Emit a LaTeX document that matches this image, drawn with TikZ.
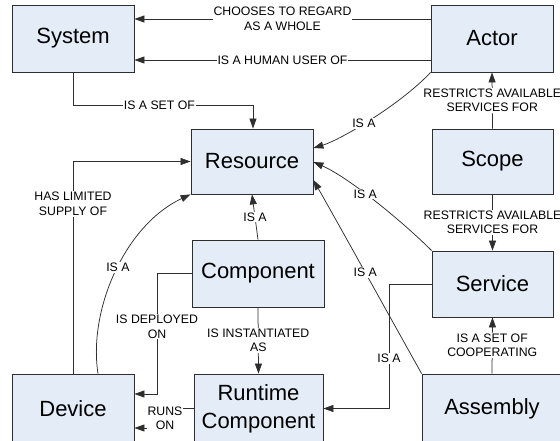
\documentclass[tikz,border=0pt]{standalone}
\usepackage{fontspec}
\setmainfont{Liberation Sans}
\usetikzlibrary{arrows.meta,calc}
\definecolor{boxfill}{HTML}{E4ECF7}
\definecolor{edgegray}{HTML}{2E2E2E}
\begin{document}
\begin{tikzpicture}[x=1pt,y=-1pt,
  ent/.style={draw=edgegray, fill=boxfill, line width=0.8pt,
    font=\fontsize{22}{28}\selectfont, align=center, inner sep=0pt},
  lbl/.style={fill=white, inner sep=1pt, text=black,
    font=\fontsize{12.3}{14.5}\selectfont, align=center},
  link/.style={draw=edgegray, line width=0.75pt,
    -{Triangle[length=10pt,width=7pt]}}
]
\useasboundingbox (0,0) rectangle (560,441);
\clip (0,0) rectangle (560,441);

% entities
\node[ent, minimum width=122pt, minimum height=67pt] (system)    at (73,38.5)    {System};
\node[ent, minimum width=122pt, minimum height=67pt] (actor)     at (492,38.5)   {Actor};
\node[ent, minimum width=122pt, minimum height=65pt] (resource)  at (252,161.5)  {Resource};
\node[ent, minimum width=121pt, minimum height=65pt] (scope)     at (492.5,161.5){Scope};
\node[ent, minimum width=132pt, minimum height=67pt] (component) at (258,273.5)  {Component};
\node[ent, minimum width=121pt, minimum height=66pt] (service)   at (492.5,284)  {Service};
\node[ent, minimum width=122pt, minimum height=69pt] (device)    at (73,408.5)   {Device};
\node[ent, minimum width=129pt, minimum height=69pt] (runtime)   at (258.5,408.5){Runtime\\Component};
\node[ent, minimum width=140pt, minimum height=69pt] (assembly)  at (492,408.5)  {Assembly};

% bend points of the orthogonal connectors
\coordinate (dp) at (157,394);
\coordinate (ro) at (165,428);
\coordinate (sr) at (389,408.5);

% relations
\draw[link] (actor.west |- 0,19) -- node[lbl]{CHOOSES TO REGARD\\AS A WHOLE} (system.east |- 0,19);
\draw[link] (actor.west |- 0,60) -- node[lbl]{IS A HUMAN USER OF} (system.east |- 0,60);
\draw[link] (system.south) |- node[lbl,pos=0.74]{IS A SET OF} (253,105) -- (resource.north -| 253,0);

\draw[link] (actor.south west) .. controls (400,105) and (340,140) ..
  node[lbl,pos=0.55]{IS A} (resource.east |- 0,148);
\draw[link] (service.north west) .. controls (402,221) and (348,177) ..
  node[lbl,pos=0.57]{IS A} (resource.east |- 0,162);
\draw[link] (assembly.north west) .. controls (386,310) and (343,232) ..
  node[lbl,pos=0.5]{IS A} (resource.east |- 0,180);
\draw[link] (component.north) -- node[lbl]{IS A} (resource.south);
\draw[link] (device.north -| 98,0) .. controls (88,310) and (125,225) ..
  node[lbl,pos=0.52]{IS A} (resource.south west);
\draw[link] (device.north) |- node[lbl,pos=0.4]{HAS LIMITED\\SUPPLY OF} (resource.west);

\draw[link] (scope.north) -- node[lbl]{RESTRICTS AVAILABLE\\SERVICES FOR} (actor.south);
\draw[link] (scope.south) -- node[lbl]{RESTRICTS AVAILABLE\\SERVICES FOR} (service.north);
\draw[link] (assembly.north) -- node[lbl]{IS A SET OF\\COOPERATING} (service.south);

\draw[link] (component.west) -| node[lbl,pos=0.72]{IS DEPLOYED\\ON} (dp) -- (device.east |- dp);
\draw[link] (component.south) -- node[lbl]{IS INSTANTIATED\\AS} (runtime.north);
\draw[link] (runtime.west) -| node[lbl,pos=0.75]{RUNS\\ON} (ro) -- (device.east |- ro);
\draw[link] (service.west) -| node[lbl,pos=0.8]{IS A} (sr) -- (runtime.east);
\end{tikzpicture}
\end{document}
